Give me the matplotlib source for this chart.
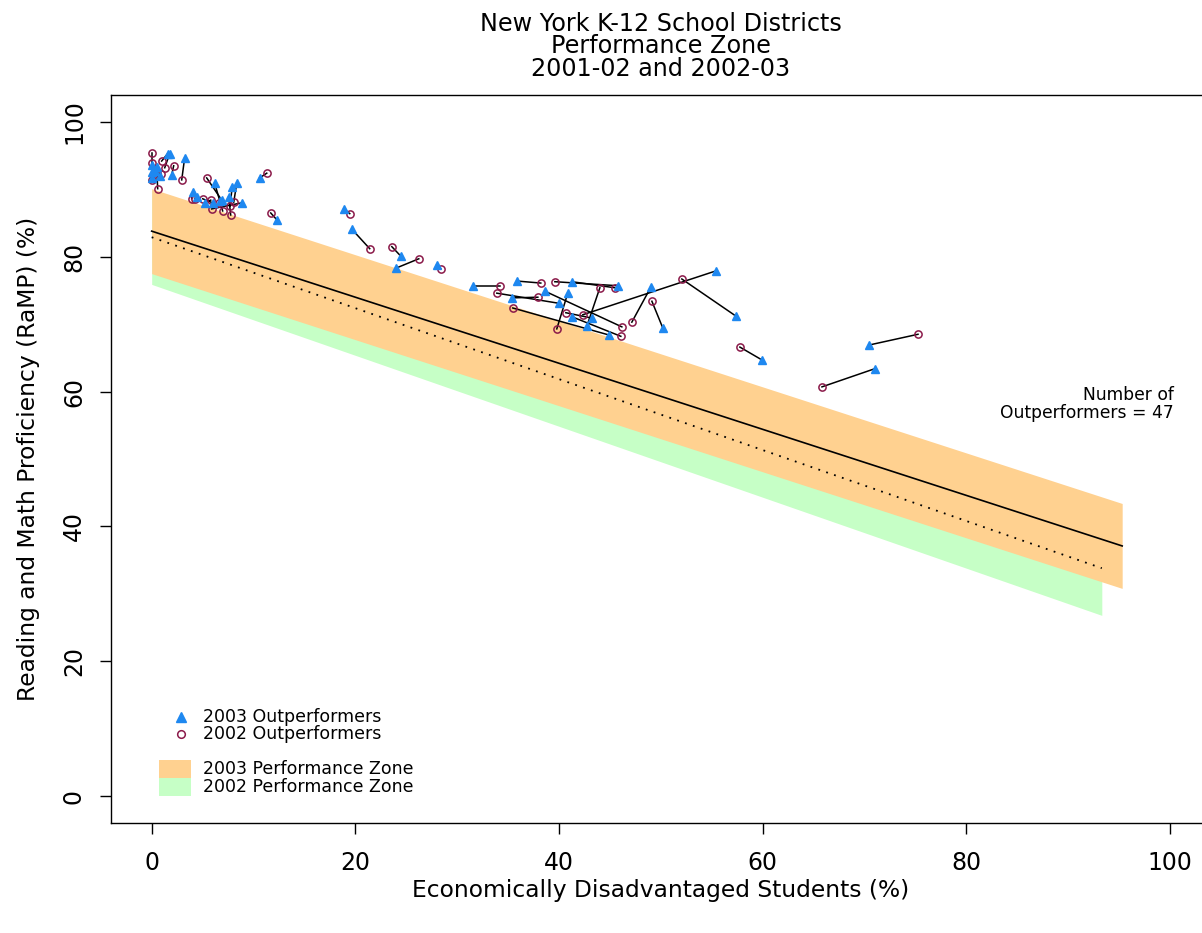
import numpy as np
import matplotlib
matplotlib.use("Agg")
import matplotlib.pyplot as plt
from matplotlib.patches import Rectangle

plt.rcParams['font.family'] = ['DejaVu Sans']

#---------------------------------------------------------------------------------------------------------------------------#
# data

# 2003 outperformers (triangles) and the same districts in 2002 (circles)
pct_disadv_2003 = [0.0, 0.49, 1.57, 1.77, 3.24, 1.96, 0.29, 0.0, 4.03, 6.88, 6.19, 5.99, 8.84, 7.56, 8.35, 10.61,
                   12.28, 6.68, 18.86, 19.65, 24.46, 23.97, 28.00, 31.53, 39.98, 35.85, 45.78, 41.26, 35.36, 44.89,
                   43.22, 55.40, 42.73, 41.26, 38.61, 40.86, 49.02, 50.20, 57.37, 59.92, 70.43, 71.02, 0.0, 0.79,
                   4.42, 5.21, 7.9]
ramp_2003 = [91.7, 93.3, 95.3, 95.3, 94.7, 92.1, 92.7, 93.6, 89.6, 88.4, 90.9, 88.0, 88.0, 88.9, 90.9, 91.7,
             85.5, 88.3, 87.1, 84.1, 80.1, 78.3, 78.8, 75.7, 73.1, 76.4, 75.7, 76.3, 73.9, 68.4,
             70.9, 77.9, 69.7, 71.1, 74.9, 74.6, 75.5, 69.4, 71.2, 64.7, 66.9, 63.4, 92.6, 92.0,
             88.9, 88.0, 90.3]
pct_disadv_2002 = [0.0, 0.59, 0.98, 1.28, 2.95, 2.16, 0.88, 0.0, 3.93, 5.40, 6.97, 5.01, 5.89, 7.76, 8.06, 11.30,
                   11.69, 6.58, 19.45, 21.41, 23.58, 26.23, 28.39, 34.18, 33.89, 38.21, 39.59, 45.48, 37.92, 35.46,
                   40.67, 42.34, 44.01, 46.07, 46.17, 39.78, 47.15, 49.12, 52.06, 57.76, 75.25, 65.82, 0.0, 0.49,
                   4.22, 5.80, 7.7]
ramp_2002 = [95.4, 90.1, 94.2, 93.2, 91.4, 93.5, 92.3, 93.9, 88.6, 91.7, 86.8, 88.6, 87.1, 86.2, 88.1, 92.4,
             86.5, 88.0, 86.4, 81.2, 81.5, 79.7, 78.2, 75.7, 74.6, 76.1, 76.3, 75.4, 74.0, 72.4,
             71.7, 71.4, 75.4, 68.2, 69.6, 69.3, 70.3, 73.4, 76.7, 66.6, 68.5, 60.7, 91.4, 92.4,
             88.6, 88.4, 87.5]

# performance zones: fitted line at the two ends, and half width of the zone
zone_2003_x = [0.0, 95.3]
zone_2003_fit = [83.8, 37.1]
zone_2003_half = 6.3
zone_2002_x = [0.0, 93.3]
zone_2002_fit = [82.9, 33.8]
zone_2002_half = 7.0

n_outperformers = 47
x_ticks = [0, 20, 40, 60, 80, 100]
y_ticks = [0, 20, 40, 60, 80, 100]

ORANGE = "#FFD190"
GREEN = "#C6FFC6"
BLUE = "#1E88F0"
MAROON = "#8B1A4A"

#---------------------------------------------------------------------------------------------------------------------------#

fig = plt.figure(figsize=(12.02, 9.33), dpi=100)
ax = fig.add_axes([0.0923, 0.1179, 0.915, 0.7803])

zx = np.array(zone_2002_x)
zf = np.array(zone_2002_fit)
ax.fill_between(zx, zf - zone_2002_half, zf + zone_2002_half, color=GREEN, lw=0, zorder=1)
ox = np.array(zone_2003_x)
of = np.array(zone_2003_fit)
ax.fill_between(ox, of - zone_2003_half, of + zone_2003_half, color=ORANGE, lw=0, zorder=2)

ax.plot(ox, of, color="black", lw=1.2, zorder=3)
ax.plot(zx, zf, color="black", lw=1.3, linestyle=(0, (1, 3.6)), zorder=3)

for x3, y3, x2, y2 in zip(pct_disadv_2003, ramp_2003, pct_disadv_2002, ramp_2002):
    ax.plot([x3, x2], [y3, y2], color="black", lw=1.1, zorder=4)

ax.plot(pct_disadv_2002, ramp_2002, "o", ms=5.2, mfc="none", mec=MAROON, mew=1.1, zorder=5)
ax.plot(pct_disadv_2003, ramp_2003, "^", ms=6.0, color=BLUE, mec=BLUE, zorder=6)

ax.set_xlim(-4, 104)
ax.set_ylim(-4, 104)
ax.set_xticks(x_ticks)
ax.set_yticks(y_ticks)
ax.tick_params(direction="out", length=8, width=1, labelsize=17)
ax.tick_params(axis="x", pad=12)
ax.tick_params(axis="y", pad=10)
for lab in ax.get_yticklabels():
    lab.set_rotation(90)
    lab.set_va("center")
for sp in ax.spines.values():
    sp.set_linewidth(1)

ax.set_xlabel("Economically Disadvantaged Students (%)", fontsize=16.8, labelpad=3)
ax.set_ylabel("Reading and Math Proficiency (RaMP) (%)", fontsize=16.8, labelpad=16)
ax.set_title("New York K-12 School Districts\nPerformance Zone\n2001-02 and 2002-03",
             fontsize=17.2, linespacing=0.9, pad=14)

ax.text(0.9665, 0.600, "Number of\nOutperformers = " + str(n_outperformers), transform=ax.transAxes,
        ha="right", va="top", fontsize=12.3, linespacing=1.0)

# legend drawn by hand, placed like the original
ax.plot([0.0635], [0.1460], "^", ms=6.5, color=BLUE, transform=ax.transAxes, clip_on=False)
ax.plot([0.0635], [0.1216], "o", ms=5.5, mfc="none", mec=MAROON, mew=1.1, transform=ax.transAxes)
ax.text(0.0835, 0.1460, "2003 Outperformers", transform=ax.transAxes, va="center", fontsize=12.5)
ax.text(0.0835, 0.1216, "2002 Outperformers", transform=ax.transAxes, va="center", fontsize=12.5)
ax.add_patch(Rectangle((0.0435, 0.0620), 0.0290, 0.0245, transform=ax.transAxes, color=ORANGE, lw=0))
ax.add_patch(Rectangle((0.0435, 0.0365), 0.0290, 0.0255, transform=ax.transAxes, color=GREEN, lw=0))
ax.text(0.0835, 0.0740, "2003 Performance Zone", transform=ax.transAxes, va="center", fontsize=12.5)
ax.text(0.0835, 0.0500, "2002 Performance Zone", transform=ax.transAxes, va="center", fontsize=12.5)

fig.savefig("out.png", dpi=100)
